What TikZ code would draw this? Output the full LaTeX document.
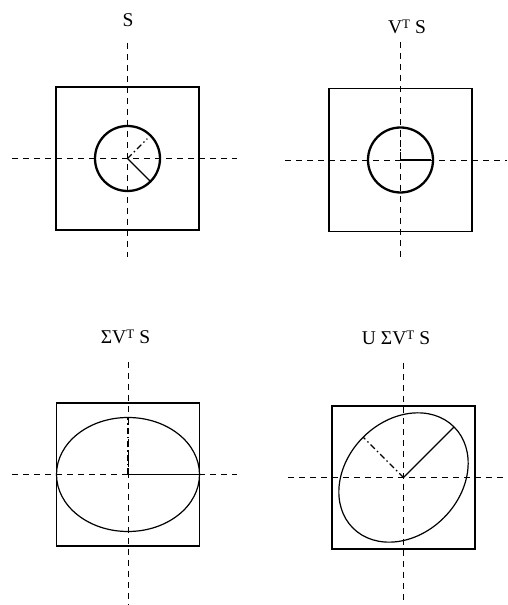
\documentclass[tikz,border=0pt]{standalone}
\usepackage{fontspec}
\setmainfont{Liberation Serif}
\newcommand{\supT}{\raisebox{4.5pt}{\fontsize{13}{13}\selectfont T}}

\begin{document}
\begin{tikzpicture}[
    x=1pt, y=1pt,
    axisline/.style={line width=0.7pt, dash pattern=on 6pt off 5pt},
    framestyle/.style={line width=1.4pt},
    ringstyle/.style={line width=2.3pt},
    ovalstyle/.style={line width=1.2pt},
    radiusline/.style={line width=1.3pt},
    dashdotline/.style={line width=1.2pt, dash pattern=on 6pt off 3pt on 1.5pt off 3pt},
    labelstyle/.style={inner sep=0pt, font=\fontsize{19.5}{21}\selectfont}
]

    \useasboundingbox (0,0) rectangle (507,605);

    % ==========================================
    % 1. S (top left)
    % ==========================================

    \coordinate (c1) at (127.5, 446.5);
    \node[labelstyle] (lblS) at (128, 584.5) {S};

    \draw[axisline] (c1) ++(-115.5,0) -- ++(225,0);
    \draw[axisline] (c1) ++(0,115.5) -- ++(0,-214);
    \draw[framestyle] (c1) ++(-71.5,-71.5) rectangle ++(143,143);

    \draw[ringstyle] (c1) circle[radius=32.5];
    \draw[radiusline] (c1) -- ++(-45:32.5);
    \draw[dashdotline] (c1) -- ++(45:28);

    % ==========================================
    % 2. V^T S (top right)
    % ==========================================

    \coordinate (c2) at (400.5, 445);
    \node[labelstyle] (lblVS) at (407, 578) {V\supT\hspace{5pt}S};

    \draw[axisline] (c2) ++(-115.5,0) -- ++(222,0);
    \draw[axisline] (c2) ++(0,118) -- ++(0,-216);
    \draw[framestyle] (c2) ++(-71.5,-71.5) rectangle ++(143,143);

    \draw[ringstyle] (c2) circle[radius=32.5];
    \draw[radiusline] (c2) -- ++(0:30);
    \draw[dashdotline] (c2) -- ++(90:30);

    % ==========================================
    % 3. Sigma V^T S (bottom left)
    % ==========================================

    \coordinate (c3) at (128, 130.5);
    \node[labelstyle] (lblSVS) at (125.5, 268) {ΣV\supT\hspace{5pt}S};

    \draw[axisline] (c3) ++(-116,0) -- ++(225,0);
    \draw[axisline] (c3) ++(0,112.5) -- ++(0,-243);
    \draw[framestyle] (c3) ++(-71.5,-71.5) rectangle ++(143,143);

    \draw[ovalstyle] (c3) ellipse[x radius=71.5, y radius=57];
    \draw[radiusline] (c3) -- ++(0:71.5);
    \draw[dashdotline] (c3) -- ++(90:57);

    % ==========================================
    % 4. U Sigma V^T S (bottom right)
    % ==========================================

    \coordinate (c4) at (403.5, 127.5);
    \node[labelstyle] (lblUSVS) at (396, 267) {U\hspace{5pt}ΣV\supT\hspace{5pt}S};

    \draw[axisline] (c4) ++(-115.5,0) -- ++(219,0);
    \draw[axisline] (c4) ++(0,114.5) -- ++(0,-237);
    \draw[framestyle] (c4) ++(-71.5,-71.5) rectangle ++(143,143);

    \draw[ovalstyle, rotate around={45:(c4)}] (c4) ellipse[x radius=71.5, y radius=57];
    \draw[radiusline] (c4) -- ++(45:71.5);
    \draw[dashdotline] (c4) -- ++(135:57);

\end{tikzpicture}
\end{document}
